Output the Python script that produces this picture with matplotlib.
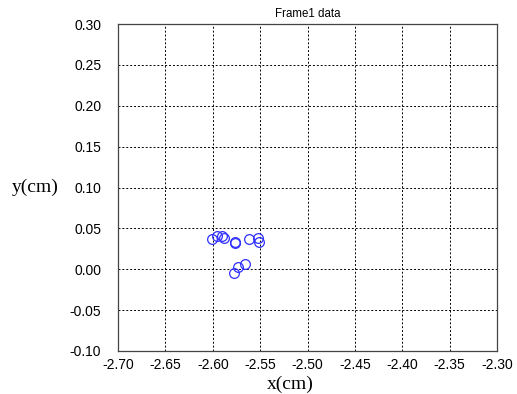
import numpy as np
import matplotlib.pyplot as plt

# 측정 점 (x, y) 단위 cm
x_cm = [-2.601, -2.595, -2.590, -2.588, -2.577, -2.576, -2.562, -2.5526, -2.5515,
        -2.578, -2.5737, -2.5657]
y_cm = [0.0366, 0.041, 0.041, 0.0386, 0.0317, 0.0333, 0.037, 0.0379, 0.0337,
        -0.0042, 0.0031, 0.006]

xticks = np.round(np.arange(-2.70, -2.299, 0.05), 2)
yticks = np.round(np.arange(-0.10, 0.301, 0.05), 2)

fig = plt.figure(figsize=(5.17, 3.94), dpi=100)
ax = fig.add_axes([118 / 517, 1 - 351 / 394, 379 / 517, 327 / 394])

ax.plot(x_cm, y_cm, 'o', mfc='none', mec='#3030ff', mew=0.9, ms=7)

ax.set_xlim(-2.70, -2.30)
ax.set_ylim(-0.10, 0.30)
ax.set_xticks(xticks)
ax.set_yticks(yticks)
ax.set_xticklabels([f"{v:.2f}" for v in xticks],
                   fontfamily='Liberation Sans', fontsize=10)
ax.set_yticklabels([f"{v:.2f}" for v in yticks],
                   fontfamily='Liberation Sans', fontsize=10)
ax.tick_params(length=0, pad=5)
ax.tick_params(axis='y', pad=12)
ax.grid(True, color='black', linestyle=(0, (2, 2)), linewidth=0.7)
for s in ax.spines.values():
    s.set_color('#444444')
    s.set_linewidth(0.9)

ax.set_title("Frame1 data", fontfamily='Liberation Sans', fontsize=8.3, pad=5)
fig.text(290 / 517, 1 - 384 / 394, "x(cm)", fontfamily='Liberation Serif',
         fontsize=14, ha='center', va='center')
fig.text(35 / 517, 1 - 187 / 394, "y(cm)", fontfamily='Liberation Serif',
         fontsize=14, ha='center', va='center')

fig.savefig('out.png', dpi=100)
